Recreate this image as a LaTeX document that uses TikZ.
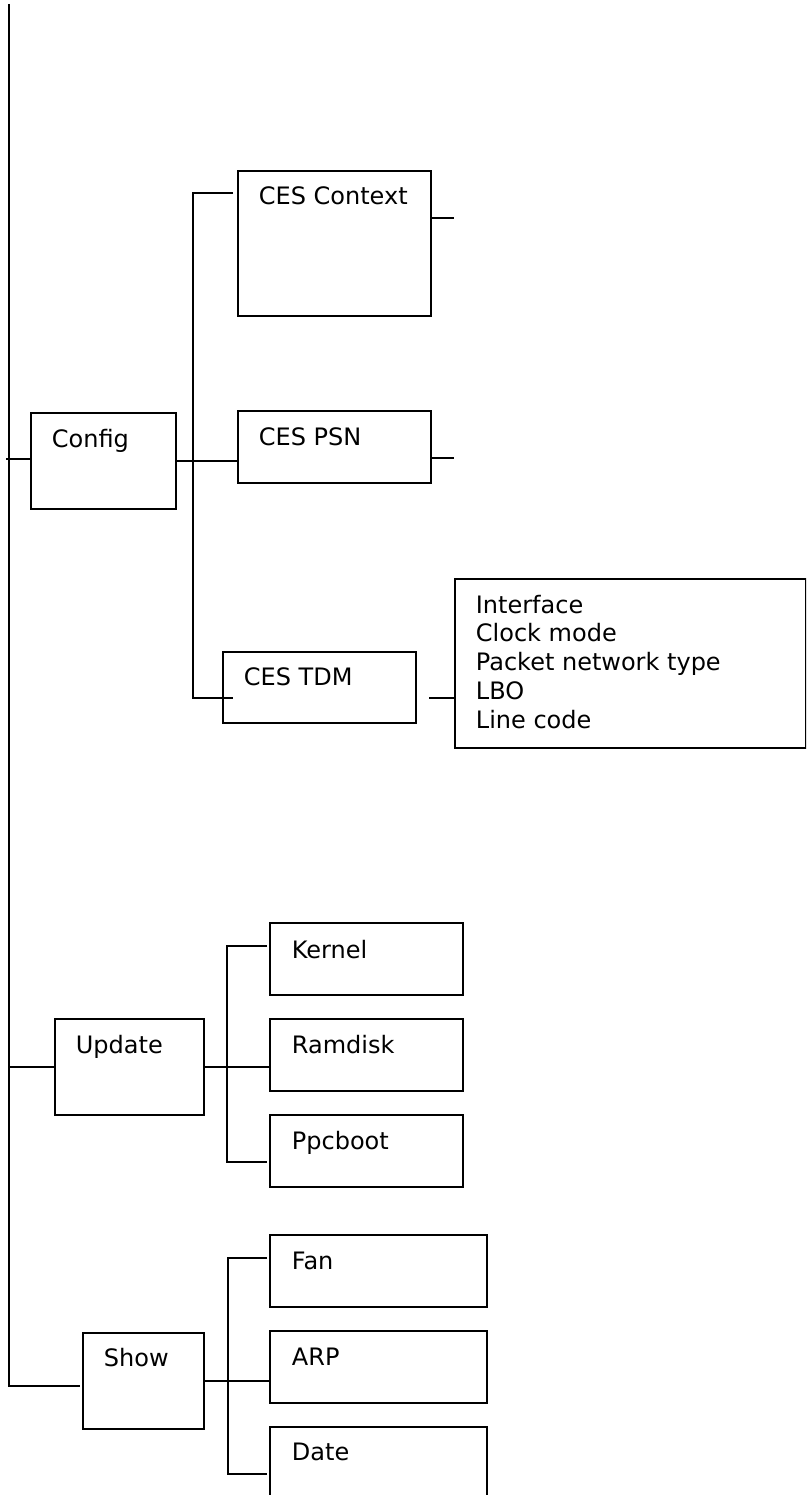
\documentclass[tikz,border=0pt]{standalone}
\usepackage{fontspec}
\setmainfont{DejaVu Sans}
\usetikzlibrary{calc}
\begin{document}
\begin{tikzpicture}[x=1pt, y=-1pt, line width=1.8pt,
  box/.style 2 args={draw, anchor=north west, inner sep=0pt,
                     minimum width=#1, minimum height=#2},
  lbl/.style={anchor=base west, inner sep=0pt,
              font=\fontsize{24}{28.75}\selectfont}]
\fill[white] (0,0) rectangle (806,1495);
\path[use as bounding box] (0,0) rectangle (806,1495);
\clip (0,0) rectangle (806,1495);

% menu boxes
\node[box={145pt}{96pt}] (config)  at (30,412)  {};
\node[box={193pt}{145pt}] (ctx)    at (237,170) {};
\node[box={193pt}{72pt}] (psn)     at (237,410) {};
\node[box={193pt}{71pt}] (tdm)     at (222,651) {};
\node[box={351pt}{169pt}] (params) at (454,578) {};
\node[box={149pt}{96pt}] (update)  at (54,1018) {};
\node[box={193pt}{72pt}] (kernel)  at (269,922) {};
\node[box={193pt}{72pt}] (ramdisk) at (269,1018) {};
\node[box={193pt}{72pt}] (ppcboot) at (269,1114) {};
\node[box={121pt}{96pt}] (show)    at (82,1332) {};
\node[box={217pt}{72pt}] (fan)     at (269,1234) {};
\node[box={217pt}{72pt}] (arp)     at (269,1330) {};
\node[box={217pt}{72pt}] (date)    at (269,1426) {};

% labels
\node[lbl] (configT)  at (51,447)   {Config};
\node[lbl] (ctxT)     at (258,205)  {CES Context};
\node[lbl] (psnT)     at (258,445)  {CES PSN};
\node[lbl] (tdmT)     at (243,685)  {CES TDM};
\node[lbl] (p1)       at (475,613)    {Interface};
\node[lbl] (p2)       at (475,641.75) {Clock mode};
\node[lbl] (p3)       at (475,670.5)  {Packet network type};
\node[lbl] (p4)       at (475,699.25) {LBO};
\node[lbl] (p5)       at (475,728)    {Line code};
\node[lbl] (updateT)  at (75,1053)  {Update};
\node[lbl] (kernelT)  at (291,958)  {Kernel};
\node[lbl] (ramdiskT) at (291,1053) {Ramdisk};
\node[lbl] (ppcbootT) at (291,1149) {Ppcboot};
\node[lbl] (showT)    at (103,1366) {Show};
\node[lbl] (fanT)     at (291,1269) {Fan};
\node[lbl] (arpT)     at (291,1365) {ARP};
\node[lbl] (dateT)    at (291,1460) {Date};

% trunk
\coordinate (trunkTop) at (9,4);
\coordinate (trunkEnd) at (9,1386);
\coordinate (cfgIn)    at (6,459);
\draw (trunkTop) -- (trunkEnd) -- ($(trunkEnd -| show.west)+(-2,0)$);
\draw (cfgIn) -- (cfgIn -| config.west);
\draw (update.west -| trunkTop) -- (update.west);

% Config branch
\coordinate (cb1) at (193,193);
\coordinate (cb2) at (193,698);
\draw (config.east) -- (config.east -| psn.west);
\draw ($(ctx.west |- cb1)+(-4,0)$) -- (cb1) -- (cb2) -- ($(tdm.west |- cb2)+(11,0)$);
\coordinate (ctxEnd) at (454,218);
\coordinate (psnEnd) at (454,458);
\coordinate (tdmOut) at (429,698);
\draw (ctxEnd -| ctx.east) -- (ctxEnd);
\draw (psnEnd -| psn.east) -- (psnEnd);
\draw (tdmOut) -- (tdmOut -| params.west);

% Update branch
\coordinate (ub1) at (227,946);
\coordinate (ub2) at (227,1162);
\draw (update.east) -- (update.east -| ramdisk.west);
\draw ($(kernel.west |- ub1)+(-2,0)$) -- (ub1) -- (ub2) -- ($(ppcboot.west |- ub2)+(-2,0)$);

% Show branch
\coordinate (sb1) at (228,1258);
\coordinate (sb2) at (228,1474);
\draw (show.east) -- (show.east -| arp.west);
\draw ($(fan.west |- sb1)+(-2,0)$) -- (sb1) -- (sb2) -- ($(date.west |- sb2)+(-2,0)$);
\end{tikzpicture}
\end{document}
